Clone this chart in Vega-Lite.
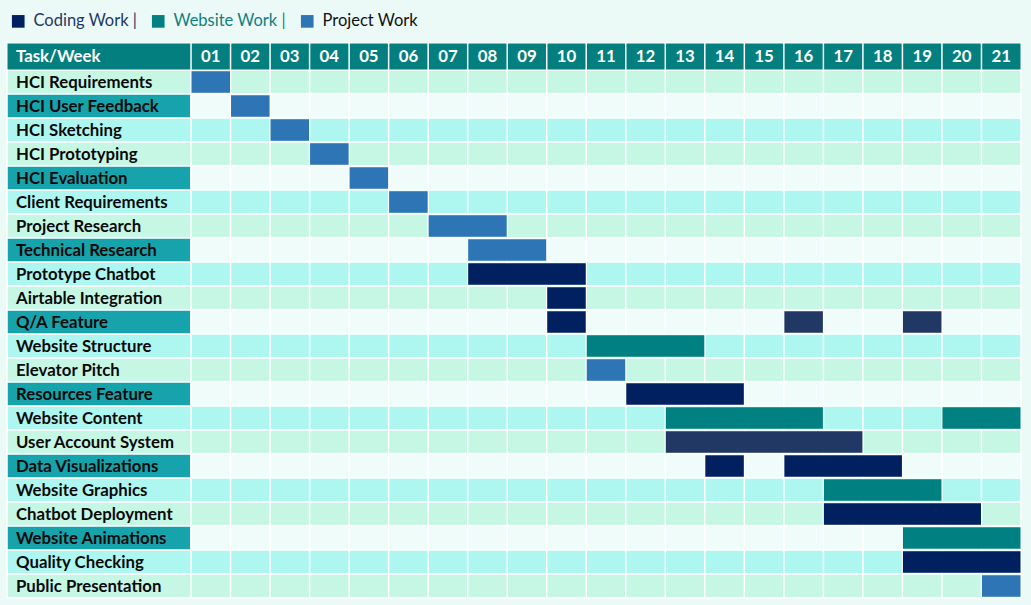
{
  "$schema": "https://vega.github.io/schema/vega-lite/v6.json",
  "autosize": "none",
  "width": 1014,
  "height": 552,
  "padding": {"left": 7, "top": 46, "right": 10, "bottom": 7},
  "background": "#ebfaf7",
  "config": {"view": {"stroke": null}, "font": "Lato"},
  "datasets": {
    "tasks": [
      {"task": "HCI Requirements"}, {"task": "HCI User Feedback"}, {"task": "HCI Sketching"},
      {"task": "HCI Prototyping"}, {"task": "HCI Evaluation"}, {"task": "Client Requirements"},
      {"task": "Project Research"}, {"task": "Technical Research"}, {"task": "Prototype Chatbot"},
      {"task": "Airtable Integration"}, {"task": "Q/A Feature"}, {"task": "Website Structure"},
      {"task": "Elevator Pitch"}, {"task": "Resources Feature"}, {"task": "Website Content"},
      {"task": "User Account System"}, {"task": "Data Visualizations"}, {"task": "Website Graphics"},
      {"task": "Chatbot Deployment"}, {"task": "Website Animations"}, {"task": "Quality Checking"},
      {"task": "Public Presentation"}
    ],
    "weeks": [
      {"week": 1, "label": "01"}, {"week": 2, "label": "02"}, {"week": 3, "label": "03"},
      {"week": 4, "label": "04"}, {"week": 5, "label": "05"}, {"week": 6, "label": "06"},
      {"week": 7, "label": "07"}, {"week": 8, "label": "08"}, {"week": 9, "label": "09"},
      {"week": 10, "label": "10"}, {"week": 11, "label": "11"}, {"week": 12, "label": "12"},
      {"week": 13, "label": "13"}, {"week": 14, "label": "14"}, {"week": 15, "label": "15"},
      {"week": 16, "label": "16"}, {"week": 17, "label": "17"}, {"week": 18, "label": "18"},
      {"week": 19, "label": "19"}, {"week": 20, "label": "20"}, {"week": 21, "label": "21"}
    ],
    "bars": [
      {"task": "HCI Requirements", "start": 1, "end": 1, "type": "Project Work"},
      {"task": "HCI User Feedback", "start": 2, "end": 2, "type": "Project Work"},
      {"task": "HCI Sketching", "start": 3, "end": 3, "type": "Project Work"},
      {"task": "HCI Prototyping", "start": 4, "end": 4, "type": "Project Work"},
      {"task": "HCI Evaluation", "start": 5, "end": 5, "type": "Project Work"},
      {"task": "Client Requirements", "start": 6, "end": 6, "type": "Project Work"},
      {"task": "Project Research", "start": 7, "end": 8, "type": "Project Work"},
      {"task": "Technical Research", "start": 8, "end": 9, "type": "Project Work"},
      {"task": "Prototype Chatbot", "start": 8, "end": 10, "type": "Coding Work"},
      {"task": "Airtable Integration", "start": 10, "end": 10, "type": "Coding Work"},
      {"task": "Q/A Feature", "start": 10, "end": 10, "type": "Coding Work"},
      {"task": "Q/A Feature", "start": 16, "end": 16, "type": "Coding Work"},
      {"task": "Q/A Feature", "start": 19, "end": 19, "type": "Coding Work"},
      {"task": "Website Structure", "start": 11, "end": 13, "type": "Website Work"},
      {"task": "Elevator Pitch", "start": 11, "end": 11, "type": "Project Work"},
      {"task": "Resources Feature", "start": 12, "end": 14, "type": "Coding Work"},
      {"task": "Website Content", "start": 13, "end": 16, "type": "Website Work"},
      {"task": "Website Content", "start": 20, "end": 21, "type": "Website Work"},
      {"task": "User Account System", "start": 13, "end": 17, "type": "Coding Work"},
      {"task": "Data Visualizations", "start": 14, "end": 14, "type": "Coding Work"},
      {"task": "Data Visualizations", "start": 16, "end": 18, "type": "Coding Work"},
      {"task": "Website Graphics", "start": 17, "end": 19, "type": "Website Work"},
      {"task": "Chatbot Deployment", "start": 17, "end": 20, "type": "Coding Work"},
      {"task": "Website Animations", "start": 19, "end": 21, "type": "Website Work"},
      {"task": "Quality Checking", "start": 19, "end": 21, "type": "Coding Work"},
      {"task": "Public Presentation", "start": 21, "end": 21, "type": "Project Work"}
    ]
  },
  "encoding": {
    "x": {"type": "quantitative", "scale": {"domain": [-4.156, 21.5], "nice": false, "zero": false}, "axis": null},
    "y": {"type": "nominal", "scale": {"domain": ["Task/Week", "HCI Requirements", "HCI User Feedback", "HCI Sketching", "HCI Prototyping", "HCI Evaluation", "Client Requirements", "Project Research", "Technical Research", "Prototype Chatbot", "Airtable Integration", "Q/A Feature", "Website Structure", "Elevator Pitch", "Resources Feature", "Website Content", "User Account System", "Data Visualizations", "Website Graphics", "Chatbot Deployment", "Website Animations", "Quality Checking", "Public Presentation"], "paddingInner": 0, "paddingOuter": 0}, "axis": null}
  },
  "layer": [
    {
      "data": {"name": "tasks"},
      "transform": [
        {"window": [{"op": "row_number", "as": "i"}]},
        {"calculate": "datum.i % 3", "as": "s"}
      ],
      "mark": {"type": "rect", "stroke": "white", "strokeWidth": 1.5},
      "encoding": {
        "x": {"datum": -4.156},
        "x2": {"datum": 21.5},
        "y": {"field": "task"},
        "fill": {"condition": [{"test": "datum.s == 1", "value": "#c6f7e4"}, {"test": "datum.s == 2", "value": "#effcf9"}], "value": "#aef7f1"}
      }
    },
    {
      "data": {"name": "tasks"},
      "transform": [
        {"window": [{"op": "row_number", "as": "i"}]},
        {"filter": "datum.i % 3 == 2"}
      ],
      "mark": {"type": "rect", "fill": "#17a3ab", "stroke": "white", "strokeWidth": 1.5},
      "encoding": {
        "x": {"datum": -4.156},
        "x2": {"datum": 0.5},
        "y": {"field": "task"}
      }
    },
    {
      "data": {"values": [{"h": "Task/Week"}]},
      "mark": {"type": "rect", "fill": "#037f7f", "stroke": "white", "strokeWidth": 1, "height": 27, "yOffset": -1.5},
      "encoding": {
        "x": {"datum": -4.156},
        "x2": {"datum": 21.5},
        "y": {"field": "h"}
      }
    },
    {
      "data": {"name": "weeks"},
      "mark": {"type": "rule", "color": "white", "strokeWidth": 1.5, "xOffset": -19.76, "yOffset": -3},
      "encoding": {
        "x": {"field": "week"}
      }
    },
    {
      "data": {"name": "bars"},
      "mark": {"type": "rect", "xOffset": -19.26, "x2Offset": 19.26, "height": {"band": 0.9}},
      "encoding": {
        "x": {"field": "start"},
        "x2": {"field": "end"},
        "y": {"field": "task"},
        "color": {
          "condition": {"test": "datum.task == 'User Account System' || (datum.task == 'Q/A Feature' && datum.start > 10)", "value": "#213864"},
          "field": "type",
          "type": "nominal",
          "scale": {"domain": ["Coding Work", "Website Work", "Project Work"], "range": ["#002060", "#008080", "#2e75b6"]},
          "legend": {
            "title": null,
            "orient": "none",
            "legendX": 3,
            "legendY": -33,
            "direction": "horizontal",
            "symbolType": "square",
            "symbolSize": 160,
            "symbolStrokeWidth": 0,
            "labelFontSize": 16.5,
            "labelFont": "Lato",
            "columnPadding": 4,
            "labelOffset": 7,
            "labelExpr": "datum.label == 'Project Work' ? datum.label : datum.label + '   |'",
            "encode": {
              "labels": {"update": {"fill": {"signal": "datum.label == 'Coding Work' ? '#1f3864' : datum.label == 'Website Work' ? '#0f7f7f' : '#111111'"}}}
            }
          }
        }
      }
    },
    {
      "data": {"name": "tasks"},
      "mark": {"type": "text", "align": "left", "dx": 9, "dy": 1, "fontSize": 16.8, "fontWeight": "bold", "color": "#0a0a0a", "baseline": "middle"},
      "encoding": {
        "x": {"datum": -4.156},
        "y": {"field": "task"},
        "text": {"field": "task"}
      }
    },
    {
      "data": {"values": [{"h": "Task/Week"}]},
      "mark": {"type": "text", "align": "left", "dx": 9, "dy": -1.5, "fontSize": 16.8, "fontWeight": "bold", "color": "white", "baseline": "middle"},
      "encoding": {
        "x": {"datum": -4.156},
        "y": {"field": "h"},
        "text": {"field": "h"}
      }
    },
    {
      "data": {"name": "weeks"},
      "mark": {"type": "text", "align": "center", "dy": -1.5, "fontSize": 16.8, "fontWeight": "bold", "color": "white", "baseline": "middle"},
      "encoding": {
        "x": {"field": "week"},
        "y": {"datum": "Task/Week"},
        "text": {"field": "label"}
      }
    }
  ]
}
